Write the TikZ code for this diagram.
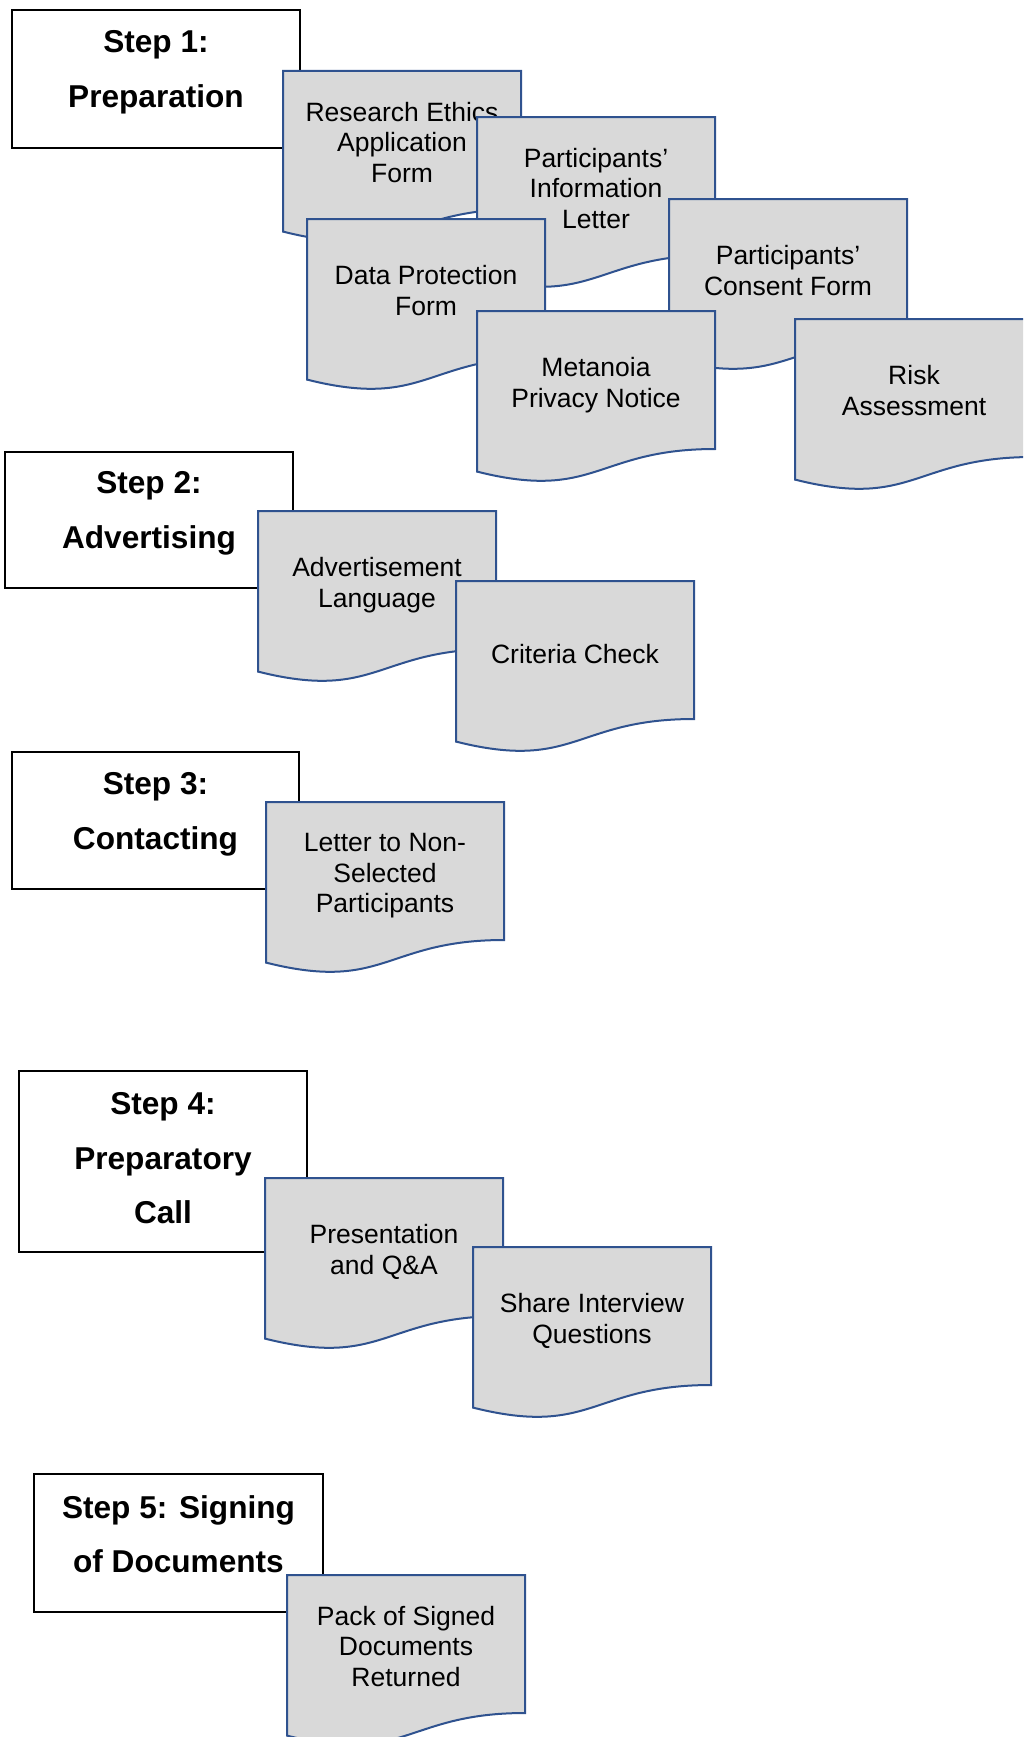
\documentclass[tikz,border=0pt]{standalone}
\usepackage{fontspec}
\setmainfont{Liberation Sans}
\definecolor{docblue}{RGB}{47,82,143}
\definecolor{docgrey}{RGB}{217,217,217}
\tikzset{
  stepbox/.style={draw=black, line width=2pt, fill=white, rectangle, inner sep=0pt, outer sep=0pt, anchor=north west},
  steptext/.style={font=\fontsize{31.6}{54.5}\selectfont\bfseries, align=center, inner sep=0pt,
    execute at begin node=\strut, execute at end node=\strut},
  docline/.style={draw=docblue, fill=docgrey, line width=2pt, line join=miter},
  doctext/.style={font=\fontsize{26.5}{30.5}\selectfont, align=center, inner sep=0pt,
    execute at begin node=\strut, execute at end node=\strut},
}
\newcommand\docbox[4]{%
  \begin{scope}[shift={(#2,#3)}]
    \filldraw[docline] (0,0) -- (238,0) -- (238,138)
      .. controls (119,138) and (119,190.5) .. (0,160.6) -- cycle;
    \node[doctext] (#1) at (119,75.9) {#4};
  \end{scope}}
\begin{document}
\begin{tikzpicture}[x=1pt,y={(0pt,-1pt)}]
\useasboundingbox (0,0) rectangle (1023,1737);
\begin{scope}
\clip (0,0) rectangle (1023,1737);
% Step 1
\node[stepbox, minimum width=288, minimum height=138] (s1) at (12,10) {};
\node[steptext] (s1t) at (156,77.2) {Step 1:\\Preparation};
\docbox{d1}{283}{71}{Research Ethics\\Application\\Form}
\docbox{d2}{477}{117}{Participants’\\Information\\Letter}
\docbox{d3}{307}{219}{Data Protection\\Form}
\docbox{d4}{669}{199}{Participants’\\Consent Form}
\docbox{d5}{477}{311}{Metanoia\\Privacy Notice}
\docbox{d6}{795}{319}{Risk\\Assessment}
% Step 2
\node[stepbox, minimum width=288, minimum height=136] (s2) at (5,452) {};
\node[steptext] (s2t) at (149,518) {Step 2:\\Advertising};
\docbox{d7}{258}{511}{Advertisement\\Language}
\docbox{d8}{456}{581}{Criteria Check}
% Step 3
\node[stepbox, minimum width=287, minimum height=137] (s3) at (12,752) {};
\node[steptext] (s3t) at (155.5,819) {Step 3:\\Contacting};
\docbox{d9}{266}{802}{Letter to Non-\\Selected\\Participants}
% Step 4
\node[stepbox, minimum width=288, minimum height=181] (s4) at (19,1071) {};
\node[steptext] (s4t) at (163,1166.2) {Step 4:\\Preparatory\\Call};
\docbox{d10}{265}{1178}{Presentation\\and Q\&A}
\docbox{d11}{473}{1247}{Share Interview\\Questions}
% Step 5
\node[stepbox, minimum width=289, minimum height=138] (s5) at (34,1474) {};
\node[steptext] (s5t) at (178.5,1542) {Step 5: Signing\\of Documents};
\docbox{d12}{287}{1575}{Pack of Signed\\Documents\\Returned}
\end{scope}
\end{tikzpicture}
\end{document}
